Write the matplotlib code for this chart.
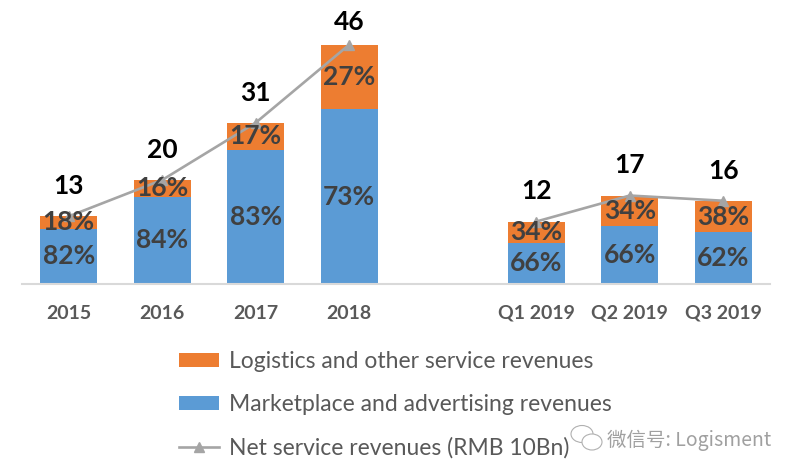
import matplotlib
matplotlib.use("Agg")
import matplotlib.pyplot as plt
from matplotlib.patches import Ellipse
import numpy as np

plt.rcParams['font.family'] = ['Lato', 'DejaVu Sans']

# 数据
categories = ["2015", "2016", "2017", "2018", "Q1 2019", "Q2 2019", "Q3 2019"]
positions = [0, 1, 2, 3, 5, 6, 7]
totals = [13, 20, 31, 46, 12, 17, 16]           # Net service revenues (RMB 10Bn)
market_pct = [82, 84, 83, 73, 66, 66, 62]        # Marketplace and advertising
logistics_pct = [18, 16, 17, 27, 34, 34, 38]     # Logistics and other services

c_orange = "#ED7D31"
c_blue = "#5B9BD5"
c_line = "#A5A5A5"

fig = plt.figure(figsize=(7.95, 4.76), dpi=100)
W, H = 795, 476
# 坐标轴位置 (像素换算)
ax = fig.add_axes([22 / W, (476 - 284) / H, 748 / W, 281 / H])

tot = np.array(totals, dtype=float)
m_val = tot * np.array(market_pct) / 100
l_val = tot * np.array(logistics_pct) / 100

b1 = ax.bar(positions, m_val, width=0.61, color=c_blue, label="Marketplace and advertising revenues")
b2 = ax.bar(positions, l_val, bottom=m_val, width=0.61, color=c_orange, label="Logistics and other service revenues")

# 折线分两段: 年度 和 季度
ln, = ax.plot(positions[:4], totals[:4], color=c_line, lw=1.9, marker="^", ms=7,
              label="Net service revenues (RMB 10Bn)")
ax.plot(positions[4:], totals[4:], color=c_line, lw=1.9, marker="^", ms=7)

# 百分比标签
for x, m, l, mp, lp in zip(positions, m_val, l_val, market_pct, logistics_pct):
    ax.text(x, m / 2, f"{mp}%", ha="center", va="center", fontsize=19,
            fontweight="bold", color="#404040")
    ax.text(x, m + l / 2, f"{lp}%", ha="center", va="center", fontsize=19,
            fontweight="bold", color="#404040")

# 总数标签
for x, t in zip(positions, totals):
    ax.text(x, min(t + 5.8, 50.3), str(t), ha="center", va="center", fontsize=19,
            fontweight="bold", color="black")

ax.set_xlim(-0.5, 7.5)
ax.set_ylim(0, 54)
ax.set_xticks(positions)
ax.set_xticklabels(categories, fontsize=14, fontweight="bold", color="#595959")
ax.tick_params(axis="x", length=0, pad=15)
ax.set_yticks([])
for s in ["top", "left", "right"]:
    ax.spines[s].set_visible(False)
ax.spines["bottom"].set_color("#D9D9D9")
ax.spines["bottom"].set_linewidth(1.5)

leg = fig.legend(handles=[b2, b1, ln], loc="upper left",
                 bbox_to_anchor=(179 / W, 1 - 351 / H), frameon=False,
                 fontsize=16.5, labelcolor="#595959", handlelength=1.75,
                 handleheight=0.6, handletextpad=0.45, labelspacing=0.97,
                 borderpad=0, borderaxespad=0)

# 水印
fig.patches.append(Ellipse((582 / W, 1 - 434 / H), 22 / W, 17 / H, fill=False,
                           ec="#B0B0B0", lw=0.8, transform=fig.transFigure))
fig.patches.append(Ellipse((592 / W, 1 - 442 / H), 20 / W, 16 / H, fc="white",
                           ec="#B0B0B0", lw=0.8, transform=fig.transFigure))
fig.text(607 / W, 1 - 440 / H, "微信号: Logisment", fontsize=14, color="#A0A0A0",
         va="center", ha="left", family=["Noto Sans CJK SC", "DejaVu Sans"])

fig.savefig("out.png", dpi=100)
